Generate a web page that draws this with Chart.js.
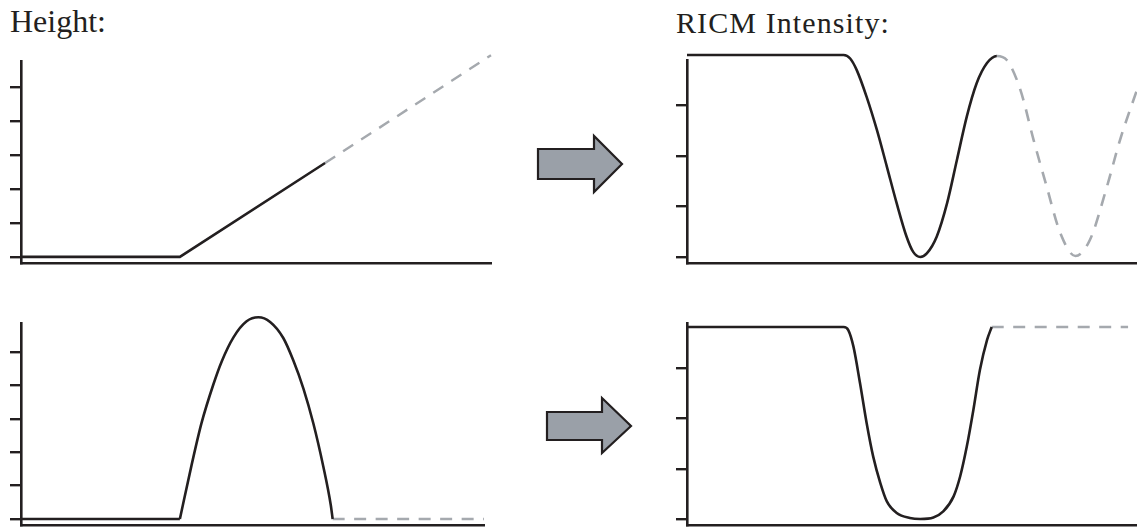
<!DOCTYPE html>
<html>
<head>
<meta charset="utf-8">
<script src="https://cdn.jsdelivr.net/npm/chart.js@4"></script>
<style>
  html, body { margin: 0; padding: 0; background: #fff; }
  body { width: 1137px; height: 529px; position: relative; overflow: hidden; }
  .title { position: absolute; font-family: "Liberation Serif", serif; color: #231f20; white-space: nowrap; line-height: 1; }
  .panel { position: absolute; }
  svg { position: absolute; left: 0; top: 0; }
</style>
</head>
<body>
<div class="title" style="left:10px; top:5px; font-size:32px;">Height:</div>
<div class="title" style="left:676px; top:8px; font-size:30px; letter-spacing:1.1px;">RICM Intensity:</div>

<canvas id="rampHeight" class="panel"></canvas>
<canvas id="rampRicm" class="panel"></canvas>
<canvas id="bumpHeight" class="panel"></canvas>
<canvas id="bumpRicm" class="panel"></canvas>

<svg width="1137" height="529">
  <polygon points="538,149 594,149 594,136 622,164 594,192 594,179 538,179" fill="#9aa0a8" stroke="#231f20" stroke-width="2.2" stroke-linejoin="miter"/>
  <polygon points="547,412 602,412 602,398 631,426 602,453 602,440 547,440" fill="#9aa0a8" stroke="#231f20" stroke-width="2.2" stroke-linejoin="miter"/>
</svg>

<script>
// time axis runs 0..10 on the left panels, 0..9.57 on the right ones
const rampT = [0, 3.38, 6.47];
const rampH = [0, 0, 2.76];
const rampDashT = [6.47, 10.0];
const rampDashH = [2.76, 5.93];
const rampTicks = [0, 1, 2, 3, 4, 5];

// intensity for the ramp; points from index rampRicmSolid-1 on are dashed
const rampRicmT = [0, 3.33, 3.47, 3.61, 3.82, 4.04, 4.25, 4.46, 4.67, 4.81, 4.96, 5.10, 5.31, 5.53, 5.74, 5.95, 6.16, 6.38, 6.59,
  6.80, 7.09, 7.37, 7.65, 7.94, 8.26, 8.57, 8.93, 9.21, 9.57];
const rampRicmI = [4.0, 4.0, 3.93, 3.70, 3.17, 2.51, 1.79, 1.06, 0.40, 0.10, 0.0, 0.07, 0.40, 1.06, 1.92, 2.78, 3.44, 3.84, 3.98,
  3.90, 3.31, 2.32, 1.39, 0.47, 0.02, 0.34, 1.39, 2.32, 3.31];
const rampRicmSolid = 19;
const ricmTicks = [0, 1, 2, 3];

const bumpBaseT = [0, 3.38];
const bumpBaseH = [0, 0];
const bumpT = [3.38, 3.63, 3.84, 4.09, 4.27, 4.52, 4.80, 5.05, 5.30, 5.58, 5.79, 6.01, 6.22, 6.43, 6.59, 6.63];
const bumpH = [0, 1.62, 2.87, 4.02, 4.72, 5.44, 5.92, 6.04, 5.90, 5.42, 4.76, 3.90, 2.86, 1.58, 0.42, 0];
const bumpDashT = [6.63, 9.85];
const bumpDashH = [0, 0];
const bumpTicks = [0, 1, 2, 3, 4, 5];

const bumpRicmT = [0, 3.33, 3.43, 3.54, 3.68, 3.82, 3.96, 4.11, 4.25, 4.46, 4.74, 4.96, 5.24, 5.45, 5.67, 5.81, 5.95, 6.09, 6.23, 6.38, 6.48];
const bumpRicmI = [3.82, 3.82, 3.76, 3.43, 2.70, 1.91, 1.24, 0.72, 0.35, 0.12, 0.02, 0, 0.03, 0.15, 0.45, 0.85, 1.44, 2.17, 2.97, 3.56, 3.82];
const bumpRicmDashT = [6.48, 9.38];
const bumpRicmDashI = [3.82, 3.82];

const INK = '#231f20';
const GREY = '#a5a9ae';
const DASH = [12, 9.5];

function pts(xs, ys) {
  return xs.map((x, i) => ({ x: x, y: ys[i] }));
}

function solid(data, smooth) {
  return {
    data: data, borderColor: INK, borderWidth: 2.6, pointRadius: 0, fill: false, clip: false,
    tension: 0, cubicInterpolationMode: smooth ? 'monotone' : 'default'
  };
}

function dashed(data) {
  return { data: data, borderColor: GREY, borderWidth: 2.4, borderDash: DASH, pointRadius: 0, fill: false, clip: false, tension: 0 };
}

function panel(id, box, pad, xMax, yMin, yMax, ticks, datasets) {
  const cv = document.getElementById(id);
  cv.style.left = box[0] + 'px';
  cv.style.top = box[1] + 'px';
  cv.width = box[2];
  cv.height = box[3];
  return new Chart(cv, {
    type: 'line',
    data: { datasets: datasets },
    options: {
      responsive: false,
      animation: false,
      devicePixelRatio: 1,
      layout: { autoPadding: false, padding: pad },
      plugins: { legend: { display: false }, tooltip: { enabled: false } },
      events: [],
      scales: {
        x: {
          type: 'linear', min: 0, max: xMax,
          ticks: { display: false },
          grid: { display: false, drawTicks: false, tickLength: 0 },
          border: { display: true, color: INK, width: 2.6 }
        },
        y: {
          type: 'linear', min: yMin, max: yMax,
          afterBuildTicks: s => { s.ticks = ticks.map(v => ({ value: v })); },
          ticks: { display: false },
          grid: { drawOnChartArea: false, drawTicks: true, tickLength: 11, color: INK, lineWidth: 2.4 },
          border: { display: true, color: INK, width: 2.6 }
        }
      }
    }
  });
}

panel('rampHeight', [4, 40, 496, 232], { left: 6, right: 9, top: 21, bottom: 9 }, 10, -0.18, 5.76, rampTicks, [
  solid(pts(rampT, rampH), false),
  dashed(pts(rampDashT, rampDashH))
]);

const ramp = solid(pts(rampRicmT, rampRicmI), true);
ramp.segment = {
  borderColor: c => c.p0DataIndex >= rampRicmSolid - 1 ? GREY : INK,
  borderDash: c => c.p0DataIndex >= rampRicmSolid - 1 ? DASH : undefined
};
panel('rampRicm', [660, 40, 477, 232], { left: 16, right: 0, top: 20, bottom: 9 }, 9.57, -0.12, 3.90, ricmTicks, [ramp]);

panel('bumpHeight', [4, 300, 496, 229], { left: 6, right: 16, top: 23, bottom: 4 }, 9.85, -0.18, 5.87, bumpTicks, [
  solid(pts(bumpBaseT, bumpBaseH), false),
  solid(pts(bumpT, bumpH), true),
  dashed(pts(bumpDashT, bumpDashH))
]);

panel('bumpRicm', [660, 300, 477, 229], { left: 16, right: 0, top: 23, bottom: 4 }, 9.57, -0.12, 3.90, ricmTicks, [
  solid(pts(bumpRicmT, bumpRicmI), true),
  dashed(pts(bumpRicmDashT, bumpRicmDashI))
]);
</script>
</body>
</html>
